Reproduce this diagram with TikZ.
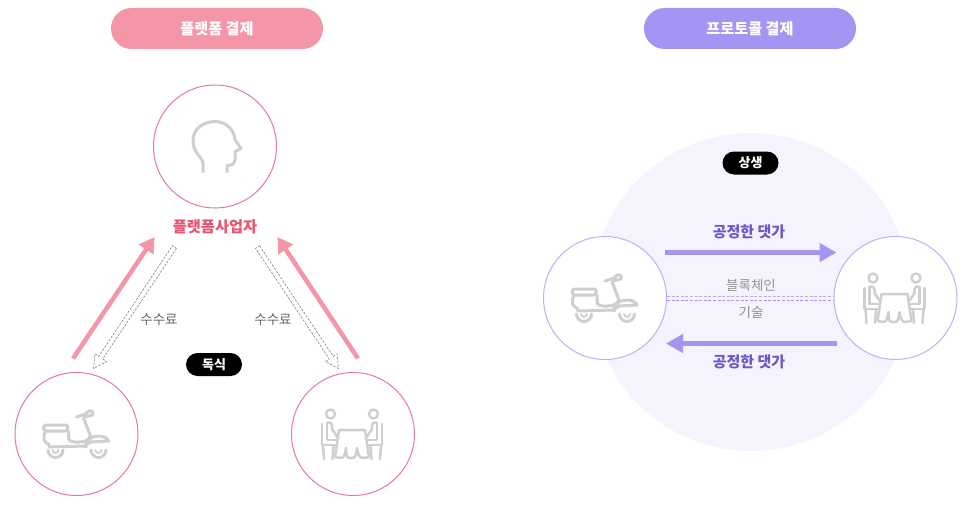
\documentclass[tikz,border=0pt]{standalone}
\usepackage{fontspec}
\setmainfont{Noto Sans CJK KR}
\usetikzlibrary{arrows.meta}
\usetikzlibrary{calc}
\usetikzlibrary{positioning}
\definecolor{platpink}{HTML}{F596A8}
\definecolor{platred}{HTML}{E8536E}
\definecolor{platring}{HTML}{EA7A8D}
\definecolor{protopurple}{HTML}{A594F1}
\definecolor{protoline}{HTML}{BDB0F6}
\definecolor{prototext}{HTML}{6C58C6}
\definecolor{protobg}{HTML}{F5F3FE}
\definecolor{iconline}{HTML}{CFCFCF}
\tikzset{
  pill/.style={rounded corners=20.5pt, minimum width=212pt, minimum height=41pt, text=white, font=\fontsize{15.2}{15}\selectfont\bfseries, inner sep=0pt},
  tag/.style={fill=black, rounded corners=11.5pt, minimum width=56pt, minimum height=23pt, text=white, font=\fontsize{13}{13}\selectfont\bfseries, inner sep=0pt},
  actor/.style={circle, draw, fill=white, minimum size=123pt, inner sep=0pt, line width=1pt},
  platactor/.style={actor, draw=platring},
  protoactor/.style={actor, draw=protoline},
  note/.style={text=black!60, font=\fontsize{13.5}{13.5}\selectfont, inner sep=0pt},
  chainnote/.style={text=black!42, font=\fontsize{13.5}{13.5}\selectfont, inner sep=0pt},
  price/.style={text=prototext, font=\fontsize{15}{15}\selectfont\bfseries, inner sep=0pt},
  platflow/.style={draw=platpink, line width=4.5pt, -{Triangle[length=15pt,width=17pt]}},
  protoflow/.style={draw=protopurple, line width=4.5pt, -{Triangle[length=17pt,width=18pt]}},
  feeline/.style={draw=black!45, line width=0.7pt, dash pattern=on 2.4pt off 1.4pt},
  iconstroke/.style={draw=iconline, line width=3pt, line cap=round, line join=round},
  headicon/.pic={
    \draw[iconstroke, line cap=butt] (-12,26) -- (-12,17) .. controls (-12,11) and (-22,7) .. (-22,-6)
      .. controls (-22,-18) and (-11,-25) .. (0,-25) .. controls (11,-25) and (19,-17) .. (20,-7)
      -- (26,2) -- (20,5) -- (20,13) .. controls (20,18) and (16,19) .. (12,19) -- (12,26);
  },
  motoicon/.pic={
    \draw[iconstroke] (-21,16) ++(-7.5,0) arc[start angle=180, end angle=0, radius=7.5];
    \draw[iconstroke, line width=1.8pt] (-21,16) ++(-3,0) arc[start angle=180, end angle=0, radius=3];
    \draw[iconstroke] (22,16) ++(-7.5,0) arc[start angle=180, end angle=0, radius=7.5];
    \draw[iconstroke, line width=1.8pt] (22,16) ++(-3,0) arc[start angle=180, end angle=0, radius=3];
    \draw[iconstroke] (-30,-9) -- (-11,-9) .. controls (-8,-9) and (-8,-4) .. (-11,-3) -- (-30,-3)
      .. controls (-34,-4) and (-34,-9) .. (-30,-9);
    \draw[iconstroke] (-31,-3) .. controls (-34,3) and (-33,9) .. (-28,10);
    \draw[iconstroke] (-28,10) -- (-27,13) -- (9,12);
    \draw[iconstroke] (-8,-3) -- (-8,3) .. controls (-8,7) and (-5,8) .. (-2,8) -- (3,8)
      .. controls (9,8) and (12,6) .. (14,2) -- (7,-16);
    \draw[iconstroke] (0,-17) -- (9,-20) .. controls (12,-25) and (18,-24) .. (16,-19) -- (8,-17);
    \draw[iconstroke] (9,13) .. controls (9,5) and (16,2) .. (22,2) .. controls (27,2) and (31,4) .. (32,7)
      -- (14,8) .. controls (11,9) and (10,11) .. (9,13);
  },
  dinericon/.pic={
    \draw[iconstroke, line width=2.5pt] (-13,-4) -- (13,-4) -- (17,23) -- (11,24) .. controls (7,24) and (6,20) .. (5,14)
      .. controls (4,20) and (4,24) .. (0,24) -- (-2,24) .. controls (-6,24) and (-6,20) .. (-6,14)
      .. controls (-7,20) and (-8,24) .. (-11,24) -- (-17,23) -- cycle;
    \foreach \side in {-1,1}{
      \begin{scope}[xscale=\side]
        \draw[iconstroke, line width=2.4pt] (21.5,-20) circle[radius=4.5];
        \draw[iconstroke, line width=2.5pt] (30,-10) -- (30,11) -- (17,11);
        \draw[iconstroke, line width=2.5pt] (29,11) -- (28,25);
        \draw[iconstroke, line width=2.5pt] (18.5,11) -- (19.5,25);
        \draw[iconstroke, line width=2.5pt] (25,-11) -- (25,6) -- (16,6);
        \draw[iconstroke, line width=2.5pt] (25,-11) .. controls (21,-13) and (19,-9) .. (20,-5) -- (14,4);
      \end{scope}
    }
  },
}
\newcommand{\feearrow}[2]{
  \coordinate (n) at ($(#2)!13pt!(#1)$);
  \draw[feeline] ($(#1)!2.4pt!90:(#2)$) -- ($(n)!2.4pt!90:(#2)$) -- ($(n)!7pt!90:(#2)$) -- (#2)
    -- ($(n)!7pt!-90:(#2)$) -- ($(n)!2.4pt!-90:(#2)$) -- ($(#1)!2.4pt!-90:(#2)$) -- cycle;
}
\begin{document}
\begin{tikzpicture}[x=1pt, y=-1pt]
    \useasboundingbox (0,0) rectangle (966,519);

    \node[pill, fill=platpink] (plattitle) at (217,28.5) {플랫폼 결제};
    \node[pill, fill=protopurple] (prototitle) at (750,28.5) {프로토콜 결제};

    \node[platactor] (boss) at (215,146.5) {};
    \node[platactor] (ridera) at (76.5,434) {};
    \node[platactor] (shopa) at (353,434) {};
    \pic at (boss) {headicon};
    \pic at (ridera) {motoicon};
    \pic at ([xshift=-1pt]shopa) {dinericon};

    \node[below=11pt of boss, text=platred, font=\fontsize{15.3}{15}\selectfont\bfseries, inner sep=0pt] (bossname) {플랫폼사업자};
    \node[tag] (monopoly) at (214,364.5) {독식};
    \node[note] (feea) at (159,320) {수수료};
    \node[note] (feeb) at (273,320) {수수료};

    \coordinate (paya) at (73,358.5);
    \coordinate (payb) at (154.5,237);
    \coordinate (payc) at (358,358.5);
    \coordinate (payd) at (277.5,237);
    \draw[platflow] (paya) -- (payb);
    \draw[platflow] (payc) -- (payd);

    \coordinate (feeas) at (174.5,247);
    \coordinate (feeae) at (93.5,368.5);
    \coordinate (feebs) at (257.5,247);
    \coordinate (feebe) at (338.5,368.5);
    \feearrow{feeas}{feeae}
    \feearrow{feebs}{feebe}

    \fill[protobg] (751,292) circle[radius=159];
    \node[tag] (mutual) at (750.5,163) {상생};
    \node[protoactor] (riderb) at (605,298) {};
    \node[protoactor] (shopb) at (895.5,298) {};
    \pic at (riderb) {motoicon};
    \pic at ([xshift=-1pt]shopb) {dinericon};

    \coordinate (faira) at (665,252.5);
    \coordinate (fairb) at (836.5,252.5);
    \coordinate (fairc) at (837,343.5);
    \coordinate (faird) at (666,343.5);
    \draw[protoflow] (faira) -- (fairb);
    \draw[protoflow] (fairc) -- (faird);
    \node[price] (pricea) at (749,232) {공정한 댓가};
    \node[price] (priceb) at (749,362) {공정한 댓가};

    \draw[protopurple, line width=0.9pt, dash pattern=on 3pt off 1.6pt] ([yshift=-2pt]riderb.east) -- ([yshift=-2pt]shopb.west);
    \draw[protoline, line width=0.9pt, dash pattern=on 3pt off 1.6pt] ([yshift=2pt]riderb.east) -- ([yshift=2pt]shopb.west);
    \node[chainnote] (chain) at (751,285) {블록체인};
    \node[chainnote] (tech) at (751,312) {기술};
  \end{tikzpicture}
\end{document}
